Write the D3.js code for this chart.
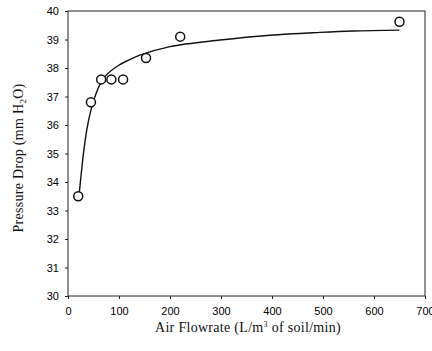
<!DOCTYPE html>
<html>
<head>
<meta charset="utf-8">
<script src="https://cdn.jsdelivr.net/npm/d3@7"></script>
<style>
  body { margin: 0; background: #fff; }
  .tick text { font-family: "Liberation Sans", Arial, sans-serif; font-size: 11px; fill: #000; }
  .axis path, .axis line { stroke: #222; }
  .title { font-family: "Liberation Serif", "Times New Roman", serif; font-size: 14px; letter-spacing: 0.3px; fill: #111; }
</style>
</head>
<body>
<div id="chart"></div>
<script>
// measured points
const flowrate = [20, 45, 65, 85, 108, 153, 220, 650];
const pressure = [33.5, 36.8, 37.6, 37.6, 37.6, 38.35, 39.1, 39.62];

// fitted curve
const curveX = [22, 26, 31, 37, 44, 52, 62, 75, 98, 118, 141, 200, 298, 396, 494, 559, 650];
const curveY = [33.6, 34.3, 35.1, 35.85, 36.45, 36.95, 37.4, 37.75, 38.08, 38.27, 38.45, 38.75, 38.98, 39.15, 39.25, 39.3, 39.33];

const xTicks = [0, 100, 200, 300, 400, 500, 600, 700];
const yTicks = [30, 31, 32, 33, 34, 35, 36, 37, 38, 39, 40];

const W = 432, H = 351;
const margin = { left: 68, top: 11, right: 7, bottom: 55 };
const width = W - margin.left - margin.right;
const height = H - margin.top - margin.bottom;

const svg = d3.select("#chart").append("svg")
  .attr("width", W)
  .attr("height", H);

const x = d3.scaleLinear().domain([0, 700]).range([0, width]);
const y = d3.scaleLinear().domain([30, 40]).range([height, 0]);

const chart = svg.append("g")
  .attr("transform", `translate(${margin.left},${margin.top})`);

// frame
chart.append("rect")
  .attr("width", width)
  .attr("height", height)
  .attr("fill", "none")
  .attr("stroke", "#222")
  .attr("stroke-width", 1);

chart.append("g").attr("class", "axis")
  .attr("transform", `translate(0,${height})`)
  .call(d3.axisBottom(x).tickValues(xTicks).tickSize(3).tickPadding(8))
  .call(g => g.select(".domain").remove());

chart.append("g").attr("class", "axis")
  .call(d3.axisLeft(y).tickValues(yTicks).tickSize(3).tickPadding(6))
  .call(g => g.select(".domain").remove());

// fitted curve
const line = d3.line()
  .x(d => x(d[0]))
  .y(d => y(d[1]))
  .curve(d3.curveCatmullRom);

chart.append("path")
  .datum(d3.zip(curveX, curveY))
  .attr("fill", "none")
  .attr("stroke", "#111")
  .attr("stroke-width", 1.4)
  .attr("d", line);

chart.selectAll("circle")
  .data(d3.zip(flowrate, pressure))
  .enter()
    .append("circle")
    .attr("cx", d => x(d[0]))
    .attr("cy", d => y(d[1]))
    .attr("r", 4.5)
    .attr("fill", "#fff")
    .attr("stroke", "#111")
    .attr("stroke-width", 1.5);

// axis titles
const xt = svg.append("text")
  .attr("class", "title")
  .attr("x", 248)
  .attr("y", 332)
  .attr("text-anchor", "middle");
xt.append("tspan").text("Air Flowrate (L/m");
xt.append("tspan").attr("font-size", "8px").attr("dy", -5).text("3");
xt.append("tspan").attr("dy", 5).text(" of soil/min)");

const yt = svg.append("text")
  .attr("class", "title")
  .attr("transform", "translate(23,158) rotate(-90)")
  .attr("text-anchor", "middle");
yt.append("tspan").text("Pressure Drop (mm H");
yt.append("tspan").attr("font-size", "9px").attr("dy", 3).text("2");
yt.append("tspan").attr("dy", -3).text("O)");
</script>
</body>
</html>
